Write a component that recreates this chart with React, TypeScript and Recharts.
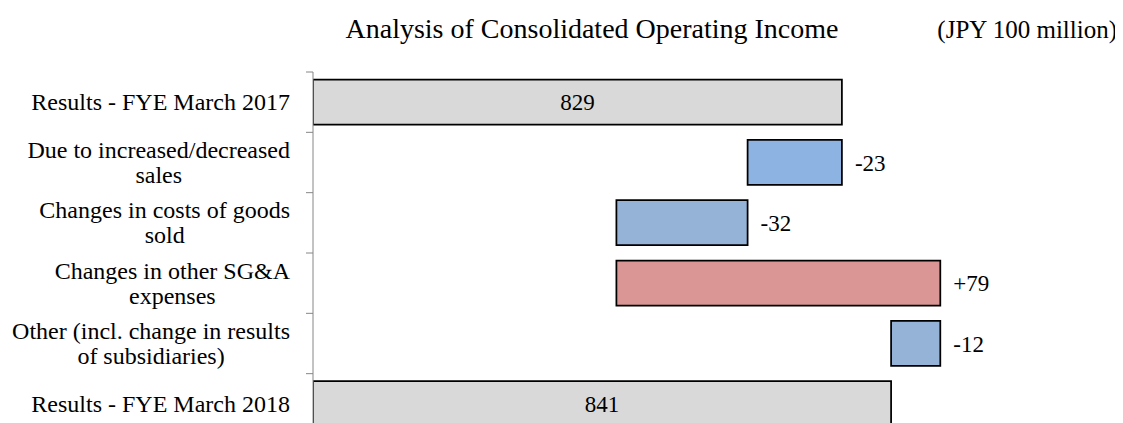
import { BarChart, Bar, XAxis, YAxis, Cell, LabelList } from 'recharts';

const CATEGORIES = [
  'Results - FYE March 2017',
  'Due to increased/decreased\nsales',
  'Changes in costs of goods\nsold',
  'Changes in other SG&A\nexpenses',
  'Other (incl. change in results\nof subsidiaries)',
  'Results - FYE March 2018',
];
const START_VALUE = 829;
const DELTAS = [-23, -32, 79, -12];
const END_VALUE = 841;
const AXIS_MIN = 700;
const AXIS_MAX = 890;
const FILLS = ['#d9d9d9', '#8db3e2', '#95b3d7', '#d99694', '#95b3d7', '#d9d9d9'];

const FONT = "'Liberation Serif', 'Times New Roman', Times, serif";
const W = 1115;
const H = 426;
const MARGIN = { top: 64, right: 31, bottom: 0, left: 0 };
const AXIS_W = 305;
const BAND = (H - MARGIN.top - MARGIN.bottom) / CATEGORIES.length;
const TICK_FONT = 24;

const fmtDelta = (d: number) => (d > 0 ? `+${d}` : `${d}`);

const buildData = () => {
  const rows: any[] = [];
  rows.push({ name: CATEGORIES[0], range: [AXIS_MIN, START_VALUE], total: String(START_VALUE), delta: '' });
  let running = START_VALUE;
  DELTAS.forEach((d, i) => {
    const from = running;
    running += d;
    rows.push({
      name: CATEGORIES[i + 1],
      range: [Math.min(from, running), Math.max(from, running)],
      total: '',
      delta: fmtDelta(d),
    });
  });
  rows.push({ name: CATEGORIES[CATEGORIES.length - 1], range: [AXIS_MIN, END_VALUE], total: String(END_VALUE), delta: '' });
  return rows;
};

const data = buildData();

let ctx: CanvasRenderingContext2D | null = null;
const measure = (s: string) => {
  if (!ctx) ctx = document.createElement('canvas').getContext('2d');
  if (!ctx) return s.length * TICK_FONT * 0.45;
  ctx.font = `${TICK_FONT}px ${FONT}`;
  return ctx.measureText(s).width;
};

// multi-line labels: block is right-aligned, lines are centred inside it
const CategoryTick = (props: any) => {
  const { y, payload } = props;
  const lines = String(payload.value).split('\n');
  const lh = 25;
  const y0 = y - ((lines.length - 1) * lh) / 2;
  const right = AXIS_W - 23;
  const blockW = Math.max(...lines.map(measure));
  const cx = right - blockW / 2;
  return (
    <g>
      <line x1={AXIS_W - 7} x2={AXIS_W} y1={y - BAND / 2} y2={y - BAND / 2} stroke="#868686" strokeWidth={1} />
      <text x={cx} y={y0} textAnchor="middle" fontFamily={FONT} fontSize={TICK_FONT} fill="#000">
        {lines.map((l, i) => (
          <tspan key={i} x={cx} y={y0 + i * lh} dominantBaseline="central">
            {l}
          </tspan>
        ))}
      </text>
    </g>
  );
};

export default function App() {
  return (
    <div style={{ position: 'relative', width: W, height: 415, overflow: 'hidden', fontFamily: FONT }}>
      <BarChart width={W} height={H} data={data} layout="vertical" margin={MARGIN} barCategoryGap="12.5%">
        <XAxis type="number" domain={[AXIS_MIN, AXIS_MAX]} allowDataOverflow hide />
        <YAxis
          type="category"
          dataKey="name"
          width={AXIS_W}
          tick={<CategoryTick />}
          tickLine={false}
          axisLine={{ stroke: '#868686', strokeWidth: 1 }}
          interval={0}
        />
        <Bar dataKey="range" stroke="#000" strokeWidth={1.75} isAnimationActive={false}>
          {data.map((_, i) => (
            <Cell key={i} fill={FILLS[i % FILLS.length]} />
          ))}
          <LabelList dataKey="total" position="center" style={{ fontSize: 23, fontFamily: FONT, fill: '#000' }} />
          <LabelList dataKey="delta" position="right" offset={13} style={{ fontSize: 23, fontFamily: FONT, fill: '#000' }} />
        </Bar>
      </BarChart>
      <svg width={W} height={50} style={{ position: 'absolute', left: 0, top: 0, pointerEvents: 'none' }}>
        <text x={584} y={30} textAnchor="middle" fontFamily={FONT} fontSize={28} fill="#000">
          Analysis of Consolidated Operating Income
        </text>
        <text x={1109} y={30} textAnchor="end" fontFamily={FONT} fontSize={25} fill="#000">
          (JPY 100 million)
        </text>
      </svg>
    </div>
  );
}
